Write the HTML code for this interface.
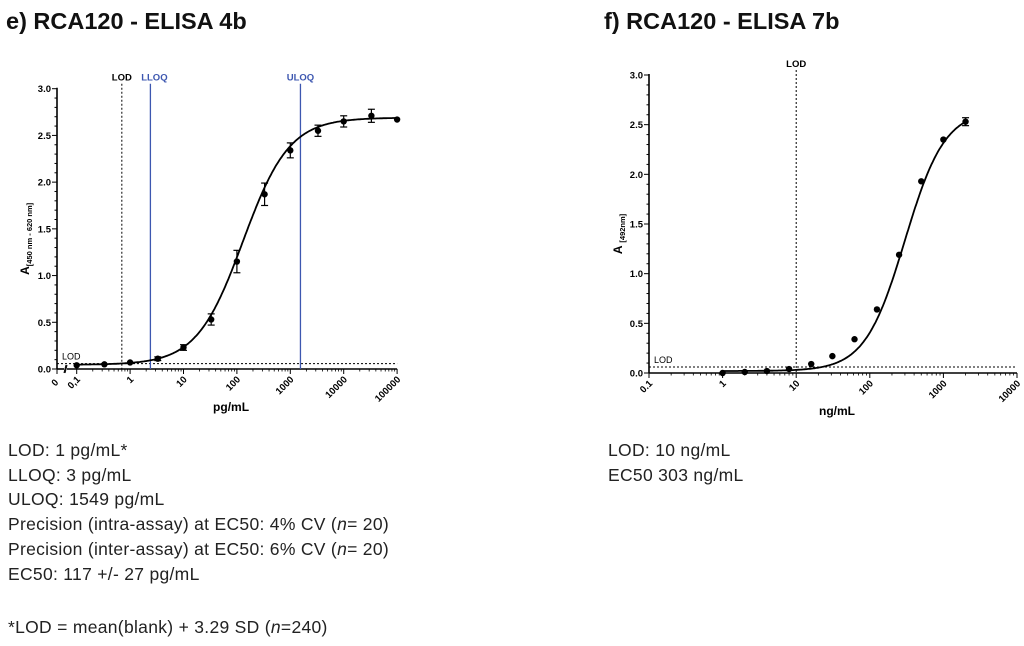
<!DOCTYPE html>
<html><head><meta charset="utf-8"><style>
body{margin:0;background:#fff;width:1024px;height:646px;overflow:hidden;font-family:"Liberation Sans",sans-serif}
svg{position:absolute;left:0;top:0}
.t{position:absolute;left:8px;font-size:17.5px;color:#222;white-space:nowrap;letter-spacing:0.3px}
.r{left:608px}
</style></head><body>
<svg id="s" width="1024" height="646">
<text x="6" y="29" font-size="23.5" font-weight="bold" fill="#111">e) RCA120 - ELISA 4b</text>
<text x="604" y="29" font-size="23.5" font-weight="bold" fill="#111">f) RCA120 - ELISA 7b</text>
</svg>
<div class="t" style="top:440px">LOD: 1 pg/mL*</div>
<div class="t" style="top:465px">LLOQ: 3 pg/mL</div>
<div class="t" style="top:489px">ULOQ: 1549 pg/mL</div>
<div class="t" style="top:514px">Precision (intra-assay) at EC50: 4% CV (<i>n</i>= 20)</div>
<div class="t" style="top:539px">Precision (inter-assay) at EC50: 6% CV (<i>n</i>= 20)</div>
<div class="t" style="top:564px">EC50: 117 +/- 27 pg/mL</div>
<div class="t" style="top:617px">*LOD = mean(blank) + 3.29 SD (<i>n</i>=240)</div>
<div class="t r" style="top:440px">LOD: 10 ng/mL</div>
<div class="t r" style="top:465px">EC50 303 ng/mL</div>
<script>
const xA=[0.1,0.33,1,3.3,10,33,100,330,1000,3300,10000,33000,100000];
const yA=[0.04,0.05,0.07,0.11,0.23,0.53,1.15,1.87,2.34,2.55,2.65,2.71,2.67];
const eA=[0.01,0.01,0.01,0.02,0.03,0.06,0.12,0.12,0.08,0.06,0.06,0.07,0.01];
const xB=[1,2,4,8,16,31,62,125,250,500,1000,2000];
const yB=[0.0,0.01,0.02,0.04,0.09,0.17,0.34,0.64,1.19,1.93,2.35,2.53];
const eB=[0,0,0,0,0,0,0,0,0,0,0,0.04];
const yTicks=[0,0.5,1.0,1.5,2.0,2.5,3.0];
const xTicksA=[0.1,1,10,100,1000,10000,100000];
const xTicksB=[0.1,1,10,100,1000,10000];
const NS='http://www.w3.org/2000/svg',S=document.getElementById('s');
function mk(t,a,p){const e=document.createElementNS(NS,t);for(const k in a)e.setAttribute(k,a[k]);(p||S).appendChild(e);return e;}
function chart(o){
  const X=v=>o.x0+(Math.log10(v)+1)*o.dec, Y=v=>o.y0-v*(o.y0-o.y3)/3;
  const g=mk('g',{});
  
  
  mk('line',{x1:o.ax,y1:o.y3-1,x2:o.ax,y2:o.y0,stroke:'#000','stroke-width':1.6},g);
  for(let i=0;i<=30;i++){const y=Y(i/10);mk('line',{x1:o.ax-(i%5?2.5:5),y1:y,x2:o.ax,y2:y,stroke:'#000','stroke-width':1},g);}
  yTicks.forEach(v=>{const t=mk('text',{x:o.ax-6,y:Y(v)+3.5,'font-size':9.5,'font-weight':'bold','text-anchor':'end'},g);t.textContent=v.toFixed(1);
    });
  mk('line',{x1:o.xs,y1:o.y0,x2:X(o.xt[o.xt.length-1]),y2:o.y0,stroke:'#000','stroke-width':1.6},g);
  if(o.brk){mk('line',{x1:o.ax,y1:o.y0,x2:o.ax+7,y2:o.y0,stroke:'#000','stroke-width':1.6},g);
    mk('line',{x1:o.ax+7,y1:o.y0+4,x2:o.ax+9,y2:o.y0-4,stroke:'#000','stroke-width':1},g);
    mk('line',{x1:o.xs-2,y1:o.y0+4,x2:o.xs,y2:o.y0-4,stroke:'#000','stroke-width':1},g);
    mk('line',{x1:o.ax,y1:o.y0,x2:o.ax,y2:o.y0+5,stroke:'#000'},g);
    const z=mk('text',{x:0,y:0,'font-size':9.5,'font-weight':'bold',transform:`translate(${o.ax+2},${o.y0+14}) rotate(-45)`,'text-anchor':'end'},g);z.textContent='0';}
  for(let i=0;i<o.xt.length;i++){const v=o.xt[i];const x=X(v);
    mk('line',{x1:x,y1:o.y0,x2:x,y2:o.y0+5,stroke:'#000','stroke-width':1},g);
    if(i<o.xt.length-1)for(let m=2;m<10;m++){const xm=X(v*m);mk('line',{x1:xm,y1:o.y0,x2:xm,y2:o.y0+2.5,stroke:'#000','stroke-width':0.8},g);}
    const t=mk('text',{x:0,y:0,'font-size':9.5,'font-weight':'bold','text-anchor':'end',transform:`translate(${x+4},${o.y0+11}) rotate(-45)`},g);
    t.textContent=(v===0.1?o.p1:String(v));
    }
  const xl=mk('text',{x:(o.ax+X(o.xt[o.xt.length-1]))/2+4,y:o.y0+42,'font-size':12,'font-weight':'bold','text-anchor':'middle'},g);xl.textContent=o.xlab;
  
  const yl=mk('text',{x:0,y:0,'font-size':12,'font-weight':'bold',transform:`translate(${o.ylx},${(o.y0+o.y3)/2+10}) rotate(-90)`,'text-anchor':'middle'},g);
  yl.innerHTML=o.ylab;
  const xe=X(o.xt[o.xt.length-1]);
  mk('line',{x1:o.ax,y1:Y(o.lodY),x2:xe,y2:Y(o.lodY),stroke:'#000','stroke-width':1,'stroke-dasharray':'2,2'},g);
  const lt=mk('text',{x:o.ax+5,y:Y(o.lodY)-4,'font-size':9},g);lt.textContent='LOD';
  mk('line',{x1:X(o.lodX),y1:o.y3-5,x2:X(o.lodX),y2:o.y0,stroke:'#000','stroke-width':1,'stroke-dasharray':'2,2'},g);
  const lv=mk('text',{x:X(o.lodX)+o.lodDx,y:o.y3-8,'font-size':9.5,'font-weight':'bold','text-anchor':'middle'},g);lv.textContent='LOD';
  (o.vl||[]).forEach(l=>{mk('line',{x1:X(l.v),y1:o.y3-5,x2:X(l.v),y2:o.y0,stroke:'#3d57b0','stroke-width':1.3},g);
    const t=mk('text',{x:X(l.v)+l.dx,y:o.y3-8,'font-size':9.5,'font-weight':'bold',fill:'#3d57b0','text-anchor':'middle'},g);t.textContent=l.n;});
  let d='';for(let i=0;i<=300;i++){const lx=Math.log10(o.cx[0])+i/300*(Math.log10(o.cx[1])-Math.log10(o.cx[0]));const v=10**lx;
    const y=o.b+(o.t-o.b)/(1+Math.pow(o.ec/v,o.h));d+=(i?'L':'M')+X(v).toFixed(1)+','+Y(y).toFixed(1);}
  const c=mk('path',{d:d,fill:'none',stroke:'#000','stroke-width':1.8},g);
  
  o.xs_.forEach((v,i)=>{const x=X(v),y=Y(o.ys[i]),e=o.es[i];
    if(e>0.015){mk('line',{x1:x,y1:Y(o.ys[i]+e),x2:x,y2:Y(o.ys[i]-e),stroke:'#000','stroke-width':1.2},g);
      [o.ys[i]+e,o.ys[i]-e].forEach(w=>mk('line',{x1:x-3.5,y1:Y(w),x2:x+3.5,y2:Y(w),stroke:'#000','stroke-width':1.2},g));}
    const p=mk('circle',{cx:x,cy:y,r:3.2,fill:'#000'},g);
    });
}
chart({name:'chart-e',x0:76.7,dec:53.4,y0:369,y3:88.7,ax:57,xs:67,brk:true,xt:xTicksA,p1:'0,1',xlab:'pg/mL',ylx:29,
  ylab:'A<tspan font-size="7.5" dy="3">[450 nm - 620 nm]</tspan>',lodY:0.057,lodX:0.7,lodDx:0,
  vl:[{v:2.4,n:'LLOQ',dx:4},{v:1549,n:'ULOQ',dx:0}],cx:[0.1,100000],b:0.045,t:2.69,ec:130,h:1.0,xs_:xA,ys:yA,es:eA});
chart({name:'chart-f',x0:649,dec:73.6,y0:373,y3:75,ax:649,xs:649,brk:false,xt:xTicksB,p1:'0.1',xlab:'ng/mL',ylx:622,
  ylab:'A <tspan font-size="7.5" dy="3">[492nm]</tspan>',lodY:0.06,lodX:10,lodDx:0,
  vl:[],cx:[1,2000],b:0.02,t:2.65,ec:300,h:1.6,xs_:xB,ys:yB,es:eB});
</script>
</body></html>
